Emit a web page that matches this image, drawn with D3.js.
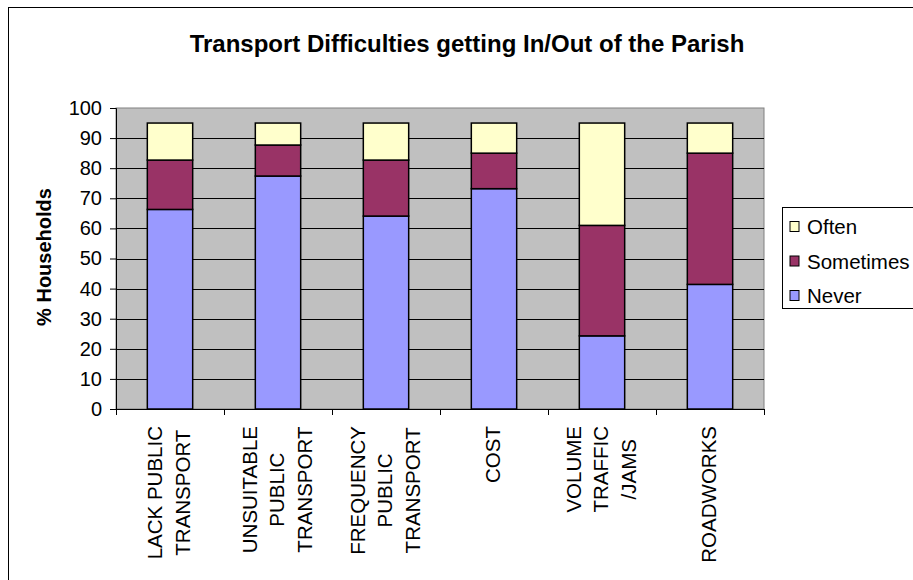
<!DOCTYPE html>
<html>
<head>
<meta charset="utf-8">
<script src="https://cdn.jsdelivr.net/npm/d3@7"></script>
<style>
  body { margin: 0; background: #fff; }
  svg { display: block; font-family: "Liberation Sans", Arial, sans-serif; }
</style>
</head>
<body>
<div id="chart"></div>
<script>
// data
var categories = ["LACK PUBLIC\nTRANSPORT", "UNSUITABLE\nPUBLIC\nTRANSPORT", "FREQUENCY\nPUBLIC\nTRANSPORT",
                  "COST", "VOLUME\nTRAFFIC\n/JAMS", "ROADWORKS"];
var seriesNames = ["Never", "Sometimes", "Often"];
var never     = [66.3, 77.4, 64.1, 73.2, 24.3, 41.4];
var sometimes = [16.4, 10.3, 18.6, 11.8, 36.7, 43.6];
var often     = [12.3,  7.3, 12.3, 10.0, 34.0, 10.0];
var yTicks = [0, 10, 20, 30, 40, 50, 60, 70, 80, 90, 100];

// how stuff looks
var width = 913, height = 580;
var plotLeft = 116, plotRight = 764, plotTop = 108, plotBottom = 409;
var colors = { Never: "#9999FF", Sometimes: "#993366", Often: "#FFFFCC" };
var plotBg = "#C0C0C0";

const rows = categories.map((c, i) => ({ cat: c, Never: never[i], Sometimes: sometimes[i], Often: often[i] }));
const stacked = d3.stack().keys(seriesNames)(rows);

const x = d3.scaleBand()
    .domain(categories)
    .range([plotLeft, plotRight])
    .paddingInner(0.58)
    .paddingOuter(0.29);
const xStep = (plotRight - plotLeft) / categories.length;

const y = d3.scaleLinear().domain([0, 100]).range([plotBottom, plotTop]);

const svg = d3.select("#chart").append("svg")
    .attr("width", width)
    .attr("height", height);

// outer frame (only top/left visible, chart is cropped)
svg.append("rect")
    .attr("x", 8.5).attr("y", 7.5)
    .attr("width", 1000).attr("height", 1000)
    .attr("fill", "none")
    .attr("stroke", "#000")
    .attr("stroke-width", 1);

// title
svg.append("text")
    .attr("x", 467)
    .attr("y", 52)
    .attr("text-anchor", "middle")
    .attr("font-size", 24)
    .attr("font-weight", "bold")
    .text("Transport Difficulties getting In/Out of the Parish");

// plot background
svg.append("rect")
    .attr("x", plotLeft).attr("y", plotTop)
    .attr("width", plotRight - plotLeft).attr("height", plotBottom - plotTop)
    .attr("fill", plotBg)
    .attr("stroke", "#808080")
    .attr("stroke-width", 1);

// gridlines
svg.append("g")
  .selectAll("line")
  .data(yTicks.filter(d => d > 0 && d < 100))
  .join("line")
    .attr("x1", plotLeft).attr("x2", plotRight)
    .attr("y1", d => Math.round(y(d)) + 0.5)
    .attr("y2", d => Math.round(y(d)) + 0.5)
    .attr("stroke", "#000")
    .attr("stroke-width", 1);

// stacked bars
svg.append("g")
  .selectAll("g")
  .data(stacked)
  .join("g")
    .attr("fill", d => colors[d.key])
  .selectAll("rect")
  .data(d => d)
  .join("rect")
    .attr("x", d => x(d.data.cat))
    .attr("width", x.bandwidth())
    .attr("y", d => y(d[1]))
    .attr("height", d => y(d[0]) - y(d[1]))
    .attr("stroke", "#000")
    .attr("stroke-width", 1.5);

// y axis
const yAxis = svg.append("g")
    .attr("transform", `translate(${plotLeft},0)`)
    .call(d3.axisLeft(y).tickValues(yTicks).tickSize(6).tickPadding(8));
yAxis.select(".domain").attr("stroke", "#000");
yAxis.selectAll("text").attr("font-size", 20).attr("font-family", null).attr("fill", "#000");

// x axis ticks at band boundaries
const xAxis = svg.append("g");
xAxis.append("line")
    .attr("x1", plotLeft).attr("x2", plotRight)
    .attr("y1", plotBottom + 0.5).attr("y2", plotBottom + 0.5)
    .attr("stroke", "#000");
xAxis.selectAll("line.tick")
  .data(d3.range(categories.length + 1))
  .join("line")
    .attr("class", "tick")
    .attr("x1", i => plotLeft + i * xStep + 0.5)
    .attr("x2", i => plotLeft + i * xStep + 0.5)
    .attr("y1", plotBottom)
    .attr("y2", plotBottom + 6)
    .attr("stroke", "#000");

// rotated multi-line category labels, top-aligned below the axis
var labelTop = plotBottom + 17;
var lineGap = 27.5;
categories.forEach(function(cat) {
  var lines = cat.split("\n");
  var cx = x(cat) + x.bandwidth() / 2 - 1.5;
  var g = svg.append("g");
  var texts = lines.map(function(line, i) {
    return g.append("text")
        .attr("font-size", 20.5)
        .attr("text-anchor", "middle")
        .attr("dominant-baseline", "central")
        .text(line);
  });
  var maxLen = d3.max(texts, t => t.node().getComputedTextLength());
  var cy = labelTop + maxLen / 2;
  texts.forEach(function(t, i) {
    var lx = cx + (i - (lines.length - 1) / 2) * lineGap;
    t.attr("transform", `translate(${lx},${cy}) rotate(-90)`);
  });
});

// y axis title
svg.append("text")
    .attr("transform", "translate(44,257) rotate(-90)")
    .attr("text-anchor", "middle")
    .attr("dominant-baseline", "central")
    .attr("font-size", 20)
    .attr("font-weight", "bold")
    .text("% Households");

// legend
var legendItems = ["Often", "Sometimes", "Never"];
const legend = svg.append("g");
legend.append("rect")
    .attr("x", 782.5).attr("y", 207.5)
    .attr("width", 200).attr("height", 101)
    .attr("fill", "#fff")
    .attr("stroke", "#000");
const li = legend.selectAll("g.item")
  .data(legendItems)
  .join("g")
    .attr("class", "item")
    .attr("transform", (d, i) => `translate(0,${226.5 + i * 34.5})`);
li.append("rect")
    .attr("x", 790).attr("y", -5)
    .attr("width", 9).attr("height", 10)
    .attr("fill", d => colors[d])
    .attr("stroke", "#000");
li.append("text")
    .attr("x", 807)
    .attr("dominant-baseline", "central")
    .attr("font-size", 20.5)
    .text(d => d);
</script>
</body>
</html>
